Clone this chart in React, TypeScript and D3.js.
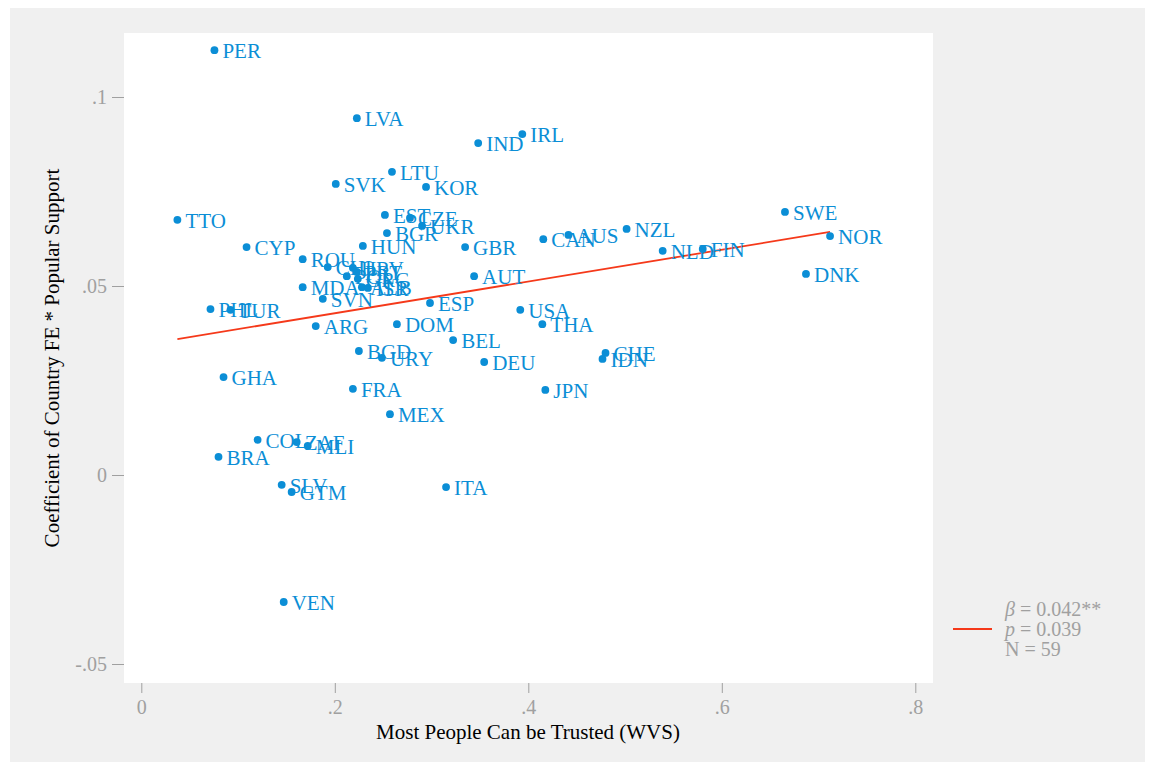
import { useEffect, useRef } from 'react';
import * as d3 from 'd3';

const countries = [
  "PER", "LVA", "IRL", "IND", "LTU", "SVK", "KOR", "SWE", "TTO", "EST",
  "CZE", "UKR", "BGR", "HUN", "GBR", "CAN", "AUS", "NZL", "NLD", "FIN",
  "NOR", "CYP", "DNK", "ROU", "CHL", "HRV", "PRT", "POL", "GRC", "ALB",
  "ISR", "MDA", "SVN", "AUT", "ESP", "PHL", "TUR", "USA", "THA", "DOM",
  "ARG", "BEL", "BGD", "URY", "CHE", "IDN", "DEU", "GHA", "FRA", "JPN",
  "MEX", "COL", "ZAF", "MLI", "BRA", "SLV", "GTM", "ITA", "VEN"
];

const trust = [
  0.0756, 0.2228, 0.3938, 0.3482, 0.2591, 0.2010, 0.2943, 0.6653, 0.0373, 0.2518,
  0.2777, 0.2902, 0.2539, 0.2290, 0.3347, 0.4155, 0.4415, 0.5016, 0.5389, 0.5803,
  0.7119, 0.1088, 0.6870, 0.1668, 0.1927, 0.2187, 0.2228, 0.2124, 0.2238, 0.2280,
  0.2342, 0.1668, 0.1876, 0.3440, 0.2984, 0.0715, 0.0922, 0.3917, 0.4145, 0.2642,
  0.1803, 0.3223, 0.2249, 0.2487, 0.4798, 0.4767, 0.3544, 0.0850, 0.2187, 0.4176,
  0.2570, 0.1202, 0.1606, 0.1720, 0.0798, 0.1451, 0.1554, 0.3150, 0.1472
];

const coef = [
  0.1124, 0.0944, 0.0902, 0.0878, 0.0802, 0.0770, 0.0762, 0.0696, 0.0675, 0.0688,
  0.0680, 0.0659, 0.0640, 0.0606, 0.0603, 0.0624, 0.0635, 0.0651, 0.0593, 0.0598,
  0.0632, 0.0603, 0.0532, 0.0571, 0.0550, 0.0548, 0.0537, 0.0526, 0.0519, 0.0497,
  0.0495, 0.0497, 0.0466, 0.0526, 0.0455, 0.0439, 0.0437, 0.0437, 0.0399, 0.0399,
  0.0394, 0.0357, 0.0328, 0.0310, 0.0323, 0.0307, 0.0299, 0.0259, 0.0228, 0.0225,
  0.0161, 0.0093, 0.0087, 0.0077, 0.0048, -0.0026, -0.0045, -0.0032, -0.0336
];

const xTicks = [0, 0.2, 0.4, 0.6, 0.8];
const xTickLabels = ["0", ".2", ".4", ".6", ".8"];
const yTicks = [-0.05, 0, 0.05, 0.1];
const yTickLabels = ["-.05", "0", ".05", ".1"];

// fitted line
const slope = 0.042;
const intercept = 0.0344;
const legendLines = ["β = 0.042**", "p = 0.039", "N = 59"];

const W = 1155;
const H = 769;
const blue = "#0b8ed6";
const red = "#f5391a";
const grey = "#a0a0a0";
const serif = "'Liberation Serif', 'DejaVu Serif', serif";

export default function App() {
  const svgRef = useRef<SVGSVGElement>(null);

  useEffect(() => {
    document.body.style.margin = "0";
    const svg = d3.select(svgRef.current);
    svg.selectAll("*").remove();

    svg.append("rect").attr("width", W).attr("height", H).attr("fill", "#fff");
    svg.append("rect")
      .attr("x", 10).attr("y", 8)
      .attr("width", 1135).attr("height", 754)
      .attr("fill", "#f0f0f0");

    const plot = { left: 124, right: 933, top: 33, bottom: 683 };
    svg.append("rect")
      .attr("x", plot.left).attr("y", plot.top)
      .attr("width", plot.right - plot.left)
      .attr("height", plot.bottom - plot.top)
      .attr("fill", "#fff");

    const x = d3.scaleLinear().domain([0, 0.8]).range([141.3, 915.3]);
    const y = d3.scaleLinear().domain([-0.05, 0.1]).range([664, 97]);

    // y axis
    const yAxis = svg.append("g").attr("transform", `translate(${plot.left},0)`)
      .call(d3.axisLeft(y).tickValues(yTicks).tickSize(12).tickPadding(5)
        .tickFormat((d, i) => yTickLabels[i]));
    yAxis.select(".domain").remove();
    yAxis.selectAll("line").attr("stroke", grey);
    yAxis.selectAll("text")
      .attr("fill", grey)
      .style("font-family", serif)
      .style("font-size", "20px");

    // x axis
    const xAxis = svg.append("g").attr("transform", `translate(0,${plot.bottom})`)
      .call(d3.axisBottom(x).tickValues(xTicks).tickSize(10).tickPadding(7)
        .tickFormat((d, i) => xTickLabels[i]));
    xAxis.select(".domain").remove();
    xAxis.selectAll("line").attr("stroke", grey);
    xAxis.selectAll("text")
      .attr("fill", grey)
      .style("font-family", serif)
      .style("font-size", "20px");

    svg.append("text")
      .attr("x", 528).attr("y", 739)
      .attr("text-anchor", "middle")
      .style("font-family", serif)
      .style("font-size", "21px")
      .text("Most People Can be Trusted (WVS)");

    svg.append("text")
      .attr("transform", "translate(59,358) rotate(-90)")
      .attr("text-anchor", "middle")
      .style("font-family", serif)
      .style("font-size", "21px")
      .text("Coefficient of Country FE * Popular Support");

    // regression line
    const xr = d3.extent(trust) as [number, number];
    svg.append("line")
      .attr("x1", x(xr[0])).attr("y1", y(intercept + slope * xr[0]))
      .attr("x2", x(xr[1])).attr("y2", y(intercept + slope * xr[1]))
      .attr("stroke", red)
      .attr("stroke-width", 1.8);

    const pts = countries.map((c, i) => ({ c, x: trust[i], y: coef[i] }));

    svg.selectAll(".dot")
      .data(pts)
      .enter()
      .append("circle")
      .attr("class", "dot")
      .attr("cx", d => x(d.x))
      .attr("cy", d => y(d.y))
      .attr("r", 3.9)
      .attr("fill", blue);

    svg.selectAll(".lbl")
      .data(pts)
      .enter()
      .append("text")
      .attr("class", "lbl")
      .attr("x", d => x(d.x) + 8)
      .attr("y", d => y(d.y))
      .attr("dy", "0.38em")
      .attr("fill", blue)
      .style("font-family", serif)
      .style("font-size", "21px")
      .text(d => d.c);

    // legend
    svg.append("line")
      .attr("x1", 953).attr("x2", 992)
      .attr("y1", 629).attr("y2", 629)
      .attr("stroke", red)
      .attr("stroke-width", 1.8);

    const leg = svg.append("g");
    legendLines.forEach((t, i) => {
      const txt = leg.append("text")
        .attr("x", 1005)
        .attr("y", 616 + i * 20)
        .attr("fill", grey)
        .style("font-family", serif)
        .style("font-size", "20px");
      const parts = t.split(" = ");
      txt.append("tspan")
        .style("font-style", i < 2 ? "italic" : "normal")
        .text(parts[0]);
      txt.append("tspan").text(" = " + parts[1]);
    });
  }, []);

  return <svg ref={svgRef} width={W} height={H} style={{ display: "block" }}></svg>;
}
